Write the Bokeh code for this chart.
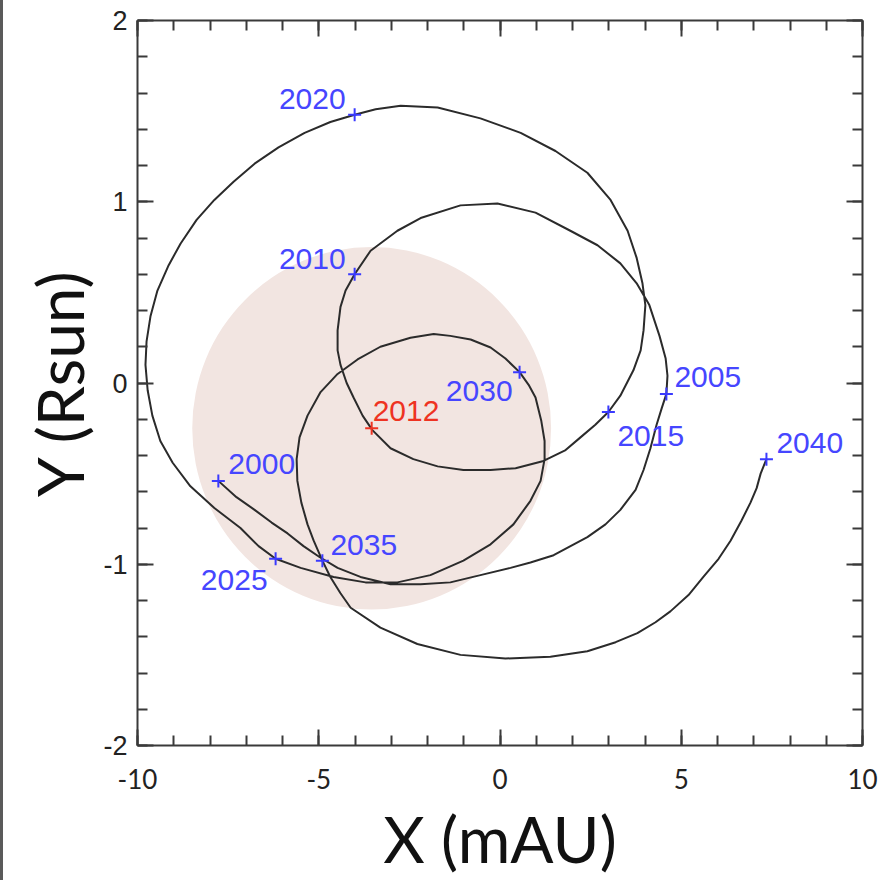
from bokeh.plotting import figure
from bokeh.models import Range1d, LinearAxis, SingleIntervalTicker, ColumnDataSource, CustomJSTickFormatter
from bokeh.core.properties import value
from bokeh.embed import file_html
from bokeh.resources import INLINE

# ---- data ----
# Sun's path, X in mAU, Y in Rsun, 2000 -> 2040
path_x_2000_2005 = [-7.77, -7.27, -6.77, -6.30, -5.86, -5.42, -4.98, -4.48, -3.85, -3.02, -2.19,
                    -1.37, -0.54, 0.29, 0.84, 1.48, 2.41, 2.91, 3.32, 3.74, 3.96, 4.15, 4.32, 4.46, 4.59]
path_y_2000_2005 = [-0.54, -0.63, -0.70, -0.77, -0.83, -0.90, -0.96, -1.02, -1.07, -1.11, -1.11,
                    -1.10, -1.06, -1.02, -0.99, -0.95, -0.85, -0.78, -0.70, -0.59, -0.48, -0.36, -0.23, -0.14, -0.06]
path_x_2005_2015 = [4.59, 4.62, 4.57, 4.40, 4.12, 3.77, 3.32, 2.69, 1.94, 0.98, -0.07, -1.09, -2.19,
                    -2.83, -3.57, -4.01, -4.26, -4.40, -4.48, -4.48, -4.40, -4.23, -4.04, -3.79, -3.52,
                    -3.02, -2.39, -1.72, -1.01, -0.26, 0.43, 1.20, 1.81, 2.22, 2.63, 2.99]
path_y_2005_2015 = [-0.06, 0.04, 0.135, 0.26, 0.43, 0.55, 0.66, 0.76, 0.84, 0.94, 0.99, 0.98, 0.91,
                    0.84, 0.73, 0.60, 0.51, 0.42, 0.29, 0.18, 0.10, 0.00, -0.08, -0.18, -0.26,
                    -0.36, -0.42, -0.46, -0.48, -0.48, -0.47, -0.43, -0.37, -0.30, -0.23, -0.16]
path_x_2015_2025 = [2.99, 3.32, 3.68, 3.88, 3.96, 4.01, 3.93, 3.77, 3.52, 3.05, 2.41, 1.53, 0.57,
                    -0.54, -1.72, -2.74, -3.43, -4.01, -4.68, -5.39, -6.11, -6.77, -7.35, -7.88,
                    -8.37, -8.81, -9.14, -9.45, -9.64, -9.75, -9.78, -9.72, -9.59, -9.37, -9.03,
                    -8.54, -7.88, -7.16, -6.66, -6.19]
path_y_2015_2025 = [-0.16, -0.07, 0.07, 0.18, 0.29, 0.43, 0.55, 0.69, 0.84, 1.01, 1.16, 1.28, 1.38,
                    1.46, 1.52, 1.53, 1.51, 1.48, 1.44, 1.38, 1.30, 1.21, 1.11, 1.01,
                    0.90, 0.77, 0.65, 0.51, 0.37, 0.23, 0.10, -0.04, -0.18, -0.32, -0.44,
                    -0.57, -0.69, -0.80, -0.90, -0.97]
path_x_2025_2030 = [-6.19, -5.50, -4.59, -3.71, -2.83, -1.92, -1.01, -0.26, 0.37, 0.84, 1.12, 1.23,
                    1.23, 1.14, 0.98, 0.79, 0.54]
path_y_2025_2030 = [-0.97, -1.02, -1.07, -1.10, -1.10, -1.06, -0.98, -0.89, -0.78, -0.65, -0.54, -0.42,
                    -0.32, -0.21, -0.08, -0.01, 0.06]
path_x_2030_2035 = [0.54, 0.15, -0.26, -0.81, -1.37, -1.83, -2.47, -3.30, -3.93, -4.48, -4.95, -5.31,
                    -5.53, -5.61, -5.59, -5.48, -5.31, -5.14, -4.90]
path_y_2030_2035 = [0.06, 0.135, 0.196, 0.24, 0.26, 0.27, 0.25, 0.20, 0.13, 0.05, -0.05, -0.18,
                    -0.30, -0.42, -0.54, -0.66, -0.78, -0.87, -0.98]
path_x_2035_2040 = [-4.90, -4.68, -4.40, -4.12, -3.30, -2.28, -1.09, 0.15, 1.39, 2.41, 3.19, 3.79,
                    4.29, 4.70, 5.20, 5.61, 6.03, 6.36, 6.66, 6.91, 7.08, 7.19, 7.35]
path_y_2035_2040 = [-0.98, -1.07, -1.16, -1.24, -1.35, -1.44, -1.50, -1.52, -1.51, -1.48, -1.43, -1.38,
                    -1.32, -1.26, -1.17, -1.07, -0.97, -0.87, -0.76, -0.66, -0.58, -0.50, -0.42]

years = ["2000", "2005", "2010", "2015", "2020", "2025", "2030", "2035", "2040"]
year_x = [-7.77, 4.59, -4.01, 2.99, -4.01, -6.19, 0.54, -4.90, 7.35]
year_y = [-0.54, -0.06, 0.60, -0.16, 1.48, -0.97, 0.06, -0.98, -0.42]

now_label = ["2012"]
now_x = [-3.54]
now_y = [-0.25]

sun_radius_x = 4.95   # mAU
sun_radius_y = 1.0    # Rsun

x_ticks_interval = 5
y_ticks_interval = 1

# ---- label placement (style) ----
lab_align = ["left", "left", "right", "left", "right", "right", "right", "left", "left"]
lab_dx = [10, 8, -9, 9, -9, -8, -7, 8, 10]
lab_dy = [-17, -17, -15, 24, -16, 21, 19, -16, -16]

path_x = (path_x_2000_2005 + path_x_2005_2015[1:] + path_x_2015_2025[1:] +
          path_x_2025_2030[1:] + path_x_2030_2035[1:] + path_x_2035_2040[1:])
path_y = (path_y_2000_2005 + path_y_2005_2015[1:] + path_y_2015_2025[1:] +
          path_y_2025_2030[1:] + path_y_2030_2035[1:] + path_y_2035_2040[1:])

p = figure(width=880, height=880, x_range=Range1d(-10, 10), y_range=Range1d(-2, 2),
           output_backend="svg", toolbar_location=None,
           x_axis_type=None, y_axis_type=None,
           min_border_left=137, min_border_right=18, min_border_top=20, min_border_bottom=135)
p.outline_line_color = None
p.background_fill_color = "white"
p.border_fill_color = "white"
p.border_fill_alpha = 0
p.styles = {"background-color": "white", "box-shadow": "inset 3px 0 0 #5a5a5a"}

AX_COL = "#3a3a3a"

def style_axis(ax, show_labels):
    ax.axis_line_color = AX_COL
    ax.axis_line_width = 2
    ax.major_tick_line_color = AX_COL
    ax.minor_tick_line_color = AX_COL
    ax.major_tick_line_width = 2
    ax.minor_tick_line_width = 2
    ax.major_tick_in = 16
    ax.major_tick_out = 0
    ax.minor_tick_in = 10
    ax.minor_tick_out = 0
    if show_labels:
        ax.formatter = CustomJSTickFormatter(code="return tick.toFixed(0);")
    else:
        ax.formatter = CustomJSTickFormatter(code="return '';")
        ax.major_label_standoff = 0

xt = SingleIntervalTicker(interval=x_ticks_interval, num_minor_ticks=5)
yt = SingleIntervalTicker(interval=y_ticks_interval, num_minor_ticks=5)

xb = LinearAxis(ticker=xt, axis_label="X (mAU)")
style_axis(xb, True)
xb.major_label_text_font = "Lato"
xb.major_label_text_font_size = "26px"
xb.major_label_text_color = "#222222"
xb.major_label_standoff = 23
xb.axis_label_text_font = "Lato"
xb.axis_label_text_font_size = "64px"
xb.axis_label_text_font_style = "normal"
xb.axis_label_text_color = "#111111"
xb.axis_label_standoff = 8
p.add_layout(xb, "below")

yl = LinearAxis(ticker=yt, axis_label="Y (Rsun)")
style_axis(yl, True)
yl.major_label_text_font = "Liberation Sans"
yl.major_label_text_font_size = "27px"
yl.major_label_text_color = "#222222"
yl.major_label_standoff = 10
yl.axis_label_text_font = "Lato"
yl.axis_label_text_font_size = "64px"
yl.axis_label_text_font_style = "normal"
yl.axis_label_text_color = "#111111"
yl.axis_label_standoff = 2
p.add_layout(yl, "left")

xa = LinearAxis(ticker=SingleIntervalTicker(interval=x_ticks_interval, num_minor_ticks=5))
style_axis(xa, False)
p.add_layout(xa, "above")

yr = LinearAxis(ticker=SingleIntervalTicker(interval=y_ticks_interval, num_minor_ticks=5))
style_axis(yr, False)
p.add_layout(yr, "right")

# Sun disk centred on the 2012 position
p.ellipse(x=now_x, y=now_y, width=[2 * sun_radius_x], height=[2 * sun_radius_y],
          fill_color="#f2e5e1", line_color=None)

p.line(path_x, path_y, line_color="#2b2b2b", line_width=2)

p.scatter(year_x, year_y, marker="cross", size=13, line_color="#3a3aff", line_width=2)
p.scatter(now_x, now_y, marker="cross", size=13, line_color="#ee3322", line_width=2)

src = ColumnDataSource(dict(x=year_x, y=year_y, t=years, a=lab_align, dx=lab_dx, dy=lab_dy))
p.text(x="x", y="y", text="t", source=src, text_align="a", x_offset="dx", y_offset="dy",
       text_baseline="middle", text_font=value("Liberation Sans"), text_font_size="30px",
       text_color="#4646ff")
p.text(x=now_x, y=now_y, text=now_label, x_offset=1, y_offset=-17, text_align="left",
       text_baseline="middle", text_font=value("Liberation Sans"), text_font_size="30px",
       text_color="#ee3322")

open("out.html", "w").write(file_html(p, INLINE))
